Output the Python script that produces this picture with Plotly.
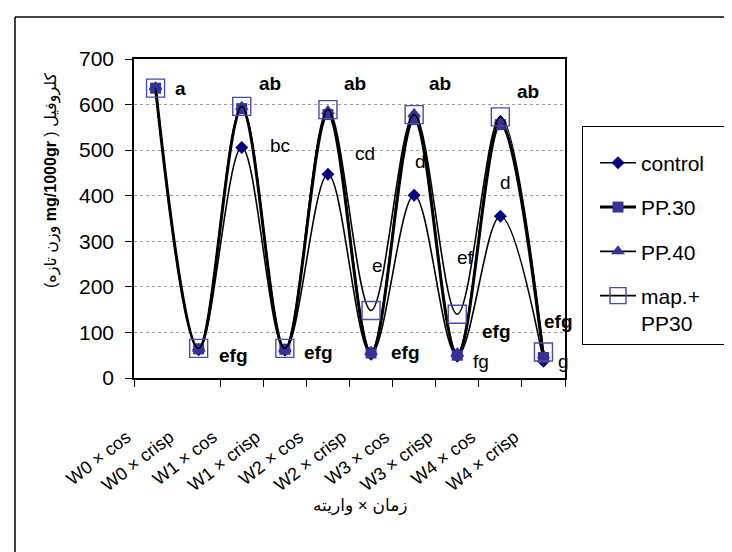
import plotly.graph_objects as go

# ---------------- data ----------------
categories = ["W0 × cos", "W0 × crisp", "W1 × cos", "W1 × crisp", "W2 × cos",
              "W2 × crisp", "W3 × cos", "W3 × crisp", "W4 × cos", "W4 × crisp"]
control = [636, 62, 506, 61, 447, 52, 401, 48, 355, 37]
pp30 = [636, 64, 591, 63, 578, 55, 567, 50, 556, 45]
pp40 = [638, 64, 595, 63, 586, 58, 580, 55, 565, 50]
map_pp30 = [636, 65, 596, 65, 589, 148, 578, 140, 573, 57]

# significance letters: text, x (category index), y (value), bold
letters = ["a", "ab", "ab", "ab", "ab", "bc", "cd", "d", "d", "e", "ef",
           "efg", "efg", "efg", "efg", "fg", "efg", "g"]
letter_x = [0.57, 2.66, 4.63, 6.60, 8.64, 2.89, 4.86, 6.14, 8.13, 5.14, 7.18,
            1.80, 3.77, 5.79, 7.92, 7.55, 9.34, 9.46]
letter_y = [636, 647, 647, 647, 629, 511, 493, 476, 428, 246, 265,
            50, 55, 55, 103, 37, 125, 37]
letter_bold = [True, True, True, True, True, False, False, False, False, False, False,
               True, True, True, True, False, True, False]

y_title = "(وزن تازه <b>mg/1000gr</b> ) کلروفیل"
x_title = "زمان × واریته"

# ---------------- layout geometry ----------------
W, H = 732, 552
L, R, T, B = 126, 175, 51, 182
PW, PH = W - L - R, H - T - B


def px(xp):
    return (xp - L) / PW


def py(yp):
    return (H - B - yp) / PH


FONT = "Liberation Sans, Arial, DejaVu Sans, sans-serif"
xidx = list(range(len(categories)))

fig = go.Figure()

fig.add_trace(go.Scatter(
    x=xidx, y=control, name="control", mode="lines+markers",
    line=dict(color="black", width=1.6, shape="spline", smoothing=1.0),
    marker=dict(symbol="diamond", size=10, color="#000080"),
    legendgroup="a"))
fig.add_trace(go.Scatter(
    x=xidx, y=pp30, name="PP.30", mode="lines+markers",
    line=dict(color="black", width=3, shape="spline", smoothing=1.0),
    marker=dict(symbol="square", size=11, color="#333399"),
    legendgroup="b"))
fig.add_trace(go.Scatter(
    x=xidx, y=pp40, name="PP.40", mode="lines+markers",
    line=dict(color="black", width=1.6, shape="spline", smoothing=1.0),
    marker=dict(symbol="triangle-up", size=12, color="#333399"),
    legendgroup="c"))
fig.add_trace(go.Scatter(
    x=xidx, y=map_pp30, name="map.+<br>PP30", mode="lines+markers",
    line=dict(color="black", width=1.6, shape="spline", smoothing=1.0),
    marker=dict(symbol="square-open", size=18, color="#4b4ba8", line=dict(width=1.4)),
    legendgroup="d"))

annotations = []
for t, xv, yv, b in zip(letters, letter_x, letter_y, letter_bold):
    annotations.append(dict(
        x=xv, y=yv, xref="x", yref="y", text=f"<b>{t}</b>" if b else t,
        showarrow=False, font=dict(family=FONT, size=19, color="black"),
        xanchor="center", yanchor="middle"))

annotations.append(dict(
    x=px(43), y=py(172), xref="paper", yref="paper", text=y_title, textangle=-90,
    showarrow=False, font=dict(family=FONT, size=16, color="black"),
    xanchor="center", yanchor="middle"))
annotations.append(dict(
    x=px(352), y=py(498), xref="paper", yref="paper", text=x_title,
    showarrow=False, font=dict(family=FONT, size=17, color="black"),
    xanchor="center", yanchor="middle"))

shapes = [
    # outer chart frame (left and top edges visible)
    dict(type="line", xref="paper", yref="paper", x0=px(7), x1=px(7), y0=py(9), y1=py(W),
         line=dict(color="black", width=1.5)),
    dict(type="line", xref="paper", yref="paper", x0=px(7), x1=px(W + 5), y0=py(9), y1=py(9),
         line=dict(color="black", width=1.5)),
]

fig.update_layout(
    width=W, height=H,
    margin=dict(l=L, r=R, t=T, b=B, autoexpand=False),
    paper_bgcolor="white", plot_bgcolor="white",
    font=dict(family=FONT, color="black"),
    showlegend=True,
    legend=dict(
        x=px(574), y=py(118), xanchor="left", yanchor="top",
        bordercolor="black", borderwidth=1, bgcolor="white",
        font=dict(family=FONT, size=21, color="black"),
        title=dict(text="&nbsp;" * 42, font=dict(size=12)), valign="top",
        tracegroupgap=14, itemwidth=36, indentation=12),
    annotations=annotations,
    shapes=shapes,
    xaxis=dict(
        range=[-0.5, len(categories) - 0.5], tickmode="array", tickvals=xidx,
        ticktext=categories, tickangle=-38, ticks="",
        ticklabelshift=-29, ticklabelstandoff=40,
        tickfont=dict(family=FONT, size=18, color="black"),
        showline=True, linecolor="black", linewidth=1.5, mirror=True,
        showgrid=False, zeroline=False, automargin=False,
        minor=dict(tickmode="array", tickvals=[-0.5, 1.5, 2.5, 3.5, 4.5, 5.5, 6.5, 7.5, 8.5, 9.5],
                   ticks="outside", ticklen=7, tickcolor="black", tickwidth=1, showgrid=False)),
    yaxis=dict(
        range=[0, 700], tickmode="array", tickvals=[0, 100, 200, 300, 400, 500, 600, 700],
        ticks="outside", ticklen=7, tickcolor="black", ticklabelstandoff=7,
        tickfont=dict(family=FONT, size=21, color="black"),
        showline=True, linecolor="black", linewidth=1.5, mirror=True,
        showgrid=True, gridcolor="#9a9a9a", griddash="dot", gridwidth=1,
        zeroline=False, automargin=False),
)

fig.write_html("out.html")
